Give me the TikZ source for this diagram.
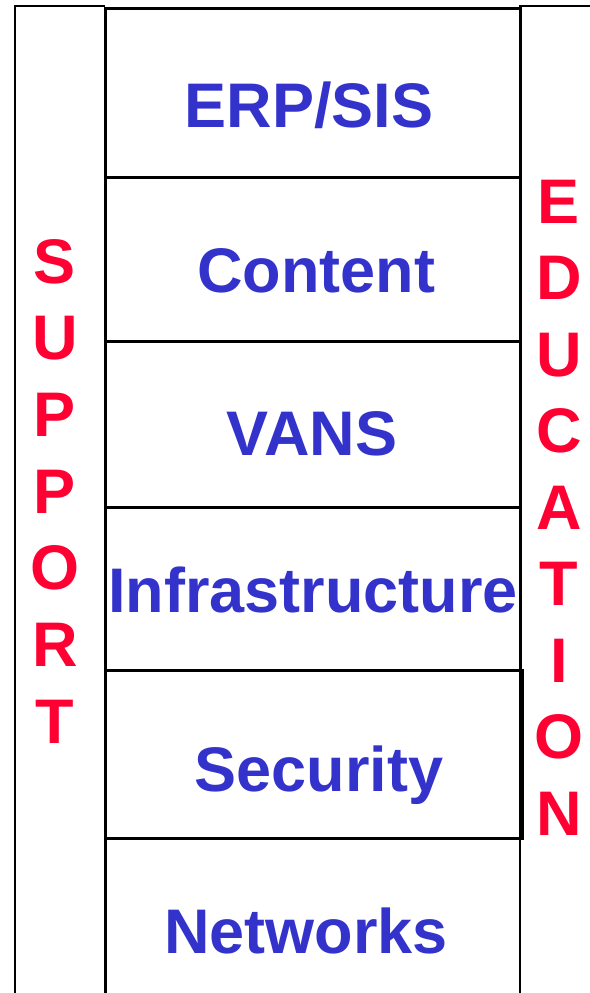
\documentclass[tikz,border=0pt]{standalone}
\usepackage{fontspec}
\setmainfont{Liberation Sans}
\usepackage{tikz}
\usetikzlibrary{positioning}
\definecolor{layerblue}{RGB}{51,51,204}
\definecolor{sidered}{RGB}{255,0,51}

\begin{document}
\begin{tikzpicture}[x=1pt, y=-1pt,
  layer/.style={font=\fontsize{63}{63}\bfseries\selectfont, text=layerblue, anchor=base, inner sep=0pt},
  side/.style={font=\fontsize{63}{63}\bfseries\selectfont, text=sidered, anchor=base, inner sep=0pt}]
\useasboundingbox (0,0) rectangle (589,993);
% side columns
\draw[line width=2] (15,1000)--(15,6)--(105,6);
\draw[line width=2] (520,1000)--(520,6)--(595,6);
% layer stack
\draw[line width=3] (105,1000)--(105,8)--(520,8)--(520,838);
\foreach \y in {177,341,507,670,838} \draw[line width=3] (105,\y)--(520,\y);
\draw[line width=3] (520,670)--(522,670)--(522,838)--(520,838);
\node[layer] (erp) at (309,127) {ERP/SIS};
\node[layer] (content) at (316,292) {Content};
\node[layer] (vans) at (312,455) {VANS};
\node[layer] (infra) at (313,612) {Infrastructure};
\node[layer] (security) at (319,791) {Security};
\node[layer] (networks) at (306,953) {Networks};
% vertical words
\foreach \c [count=\i] in {S,U,P,P,O,R,T}
  \node[side] (sup\i) at (55,{283+76.7*(\i-1)}) {\c};
\foreach \c [count=\i] in {E,D,U,C,A,T,I,O,N}
  \node[side] (edu\i) at (559,{223+76.5*(\i-1)}) {\c};
\end{tikzpicture}
\end{document}
